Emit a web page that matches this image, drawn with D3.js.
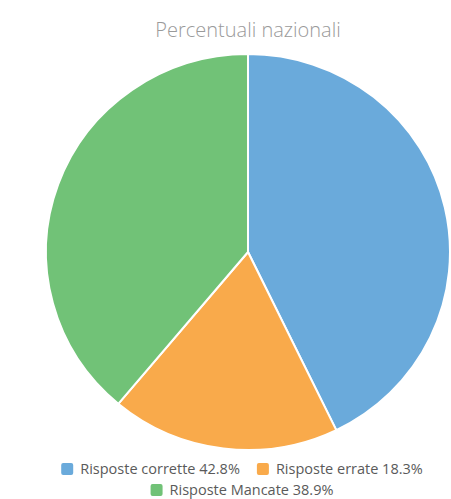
<!DOCTYPE html>
<html>
<head>
<meta charset="utf-8">
<script src="https://cdn.jsdelivr.net/npm/d3@7"></script>
<style>
  html, body { margin: 0; padding: 0; background: #fff; }
  svg { display: block; }
</style>
</head>
<body>
<svg id="chart" width="451" height="499"></svg>
<script>
// Quota di risposte a livello nazionale
const categories = ["Risposte corrette", "Risposte errate", "Risposte Mancate"];
const values = [42.8, 18.3, 38.9];
const colors = ["#6aaadb", "#f9aa4b", "#71c277"];
const title = "Percentuali nazionali";

const W = 451, H = 499;
const cx = 248, cy = 252, r = 200;
const legendCx = 242;
const font = "'Open Sans', 'Noto Sans', sans-serif";

const svg = d3.select("#chart");

svg.append("text")
  .attr("x", cx).attr("y", 37)
  .attr("text-anchor", "middle")
  .attr("font-family", font)
  .attr("font-size", 20)
  .attr("font-weight", 300)
  .attr("fill", "#9a9a9a")
  .text(title);

const data = categories.map((c, i) => ({ name: c, value: values[i], color: colors[i] }));

const pie = d3.pie().sort(null).value(d => d.value);
const arc = d3.arc().innerRadius(0).outerRadius(r);

const g = svg.append("g")
  .attr("transform", `translate(${cx},${cy}) scale(1.01,0.99)`);

g.selectAll("path")
  .data(pie(data))
  .join("path")
  .attr("d", arc)
  .attr("fill", d => d.data.color)
  .attr("stroke", "#ffffff")
  .attr("stroke-width", 2)
  .attr("stroke-linejoin", "round");

// Legenda: righe centrate
const rows = [[0, 1], [2]];
const rowY = [469, 490];
const sq = 12, gapSq = 7, gapItem = 17;
const legend = svg.append("g");

rows.forEach((row, ri) => {
  const rowG = legend.append("g");
  let x = 0;
  row.forEach(i => {
    const d = data[i];
    const item = rowG.append("g").attr("transform", `translate(${x},0)`);
    item.append("rect")
      .attr("x", 0).attr("y", -sq / 2)
      .attr("width", sq).attr("height", sq)
      .attr("rx", 2)
      .attr("fill", d.color);
    const t = item.append("text")
      .attr("x", sq + gapSq).attr("y", 0)
      .attr("dy", "0.35em")
      .attr("font-family", font)
      .attr("font-size", 14.5)
      .attr("fill", "#5a5a5a")
      .text(`${d.name} ${d.value.toFixed(1)}%`);
    x += sq + gapSq + t.node().getComputedTextLength() + gapItem;
  });
  const total = x - gapItem;
  rowG.attr("transform", `translate(${legendCx - total / 2},${rowY[ri]})`);
});
</script>
</body>
</html>
